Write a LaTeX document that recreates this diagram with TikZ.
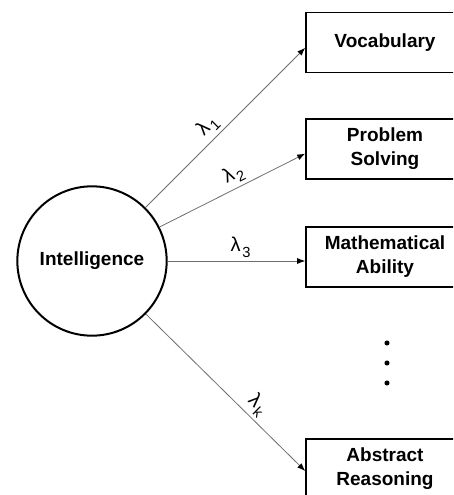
\documentclass[tikz,border=0pt]{standalone}
\usepackage{fontspec}
\setmainfont{Liberation Sans}
\usetikzlibrary{arrows.meta}
\definecolor{LGray}{HTML}{6E6E6E}
\newcommand{\lam}[1]{λ\kern1.2pt\raisebox{-0.5ex}{\fontsize{11}{11}\selectfont #1}}

\begin{document}
\begin{tikzpicture}[
  x=0.75pt,y=-0.75pt,
  b/.style={draw,line width=1.2pt,minimum width=118.5pt,minimum height=45pt,
    inner sep=0pt,align=center,font=\fontsize{14.25}{18}\selectfont\bfseries},
  c/.style={draw,circle,line width=1.5pt,minimum size=112pt,inner sep=0pt,
    font=\fontsize{14.25}{18}\selectfont\bfseries},
  a/.style={-{Latex[length=6pt,width=4.5pt,color=black]},line width=0.6pt,color=LGray},
  l/.style={sloped,above,font=\fontsize{15}{15}\selectfont,inner sep=2.5pt,text=black}
]
  \useasboundingbox (0,0) rectangle (453,495);
  \clip (0,0) rectangle (453,495);
  \node[c] (intel) at (92,261) {Intelligence};
  \node[b] (voc) at (385,42.5) {Vocabulary};
  \node[b] (prob) at (385,149) {Problem\\Solving};
  \node[b] (math) at (385,257) {Mathematical\\Ability};
  \node[b] (abs) at (385,469) {Abstract\\Reasoning};
  \draw[a] (intel) -- node[l,pos=0.45]{\lam{1}} ([yshift=-4pt]voc.west);
  \draw[a] (intel) -- node[l,pos=0.55]{\lam{2}} ([yshift=-3.5pt]prob.west);
  \draw[a] (intel) -- node[l,pos=0.53]{\lam{3}} ([yshift=-3pt]math.west);
  \draw[a] (intel) -- node[l,pos=0.64]{\lam{k}} ([yshift=-1.5pt]abs.west);
  % vertical ellipsis between the boxes
  \foreach \y in {343,363,383}
    \fill (387,\y) circle (1.9pt);
\end{tikzpicture}
\end{document}
